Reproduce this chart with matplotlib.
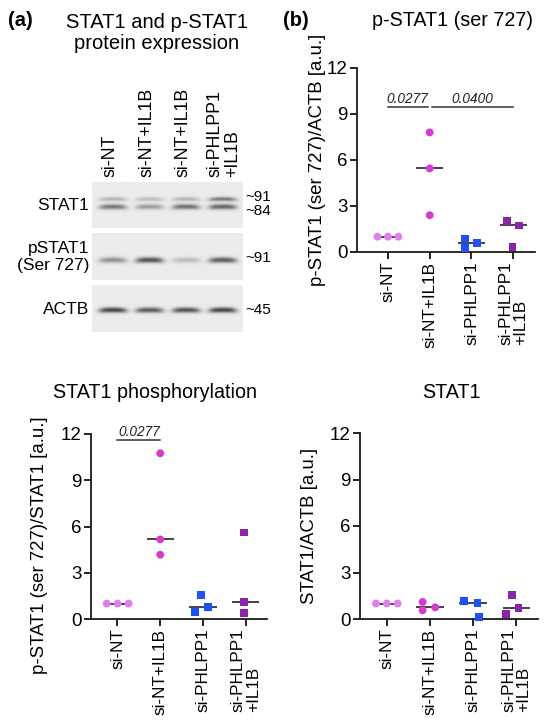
import numpy as np
import matplotlib
matplotlib.use("Agg")
import matplotlib.pyplot as plt

plt.rcParams['font.family'] = ['Liberation Sans', 'DejaVu Sans']

# ---------------- data ----------------
groups = ['si-NT', 'si-NT+IL1B', 'si-PHLPP1', 'si-PHLPP1\n+IL1B']
blot_lanes = ['si-NT', 'si-NT+IL1B', 'si-NT+IL1B', 'si-PHLPP1\n+IL1B']

# band intensities (darkness, 0..1) read from the blot
stat1_upper = [0.28, 0.24, 0.28, 0.58]
stat1_lower = [0.58, 0.40, 0.62, 0.68]
pstat1_band = [0.45, 0.78, 0.24, 0.72]
actb_band = [0.85, 0.74, 0.78, 0.85]

# quantification values
pstat1_actb = [[1.0, 1.0, 1.0], [7.8, 5.45, 2.4], [0.84, 0.26, 0.58], [2.0, 1.73, 0.33]]
pstat1_stat1 = [[1.0, 1.0, 1.0], [10.75, 5.16, 4.17], [1.55, 0.45, 0.80], [5.61, 1.12, 0.39]]
stat1_actb = [[1.0, 1.0, 1.0], [1.10, 0.56, 0.75], [1.18, 1.01, 0.13], [1.55, 0.71, 0.34]]

# horizontal jitter of the points
jit_b = [[-0.25, 0.0, 0.25], [0.0, 0.0, 0.0], [-0.16, -0.16, 0.14], [-0.16, 0.13, -0.02]]
jit_c = [[-0.25, 0.0, 0.26], [0.0, 0.0, 0.0], [-0.04, -0.18, 0.12], [-0.03, -0.03, -0.03]]
jit_d = [[-0.25, 0.0, 0.25], [-0.17, -0.17, 0.12], [-0.22, 0.10, 0.13], [-0.10, 0.05, -0.25]]

colors = ['#E07EEE', '#D63AD2', '#1E50FF', '#8B24A8']
markers = ['o', 'o', 's', 's']

W, H = 550, 723
fig = plt.figure(figsize=(W / 100, H / 100), dpi=100)


def px_axes(left, top, right, bottom):
    return fig.add_axes([left / W, 1 - bottom / H, (right - left) / W, (bottom - top) / H])


def ftext(x, y, s, **kw):
    return fig.text(x / W, 1 - y / H, s, **kw)


# ---------------- panel (a): blot ----------------
ftext(8, 20, '(a)', fontsize=14.5, fontweight='bold', va='center', ha='left')
ftext(157, 33, 'STAT1 and p-STAT1\nprotein expression', fontsize=14.5, ha='center', va='center',
      linespacing=1.15)

lane_x = [110, 147, 183, 224]
for lx, lab in zip(lane_x, blot_lanes):
    ftext(lx, 177, lab, rotation=90, fontsize=12.8, ha='center', va='bottom', multialignment='left',
          linespacing=1.0)

XL, XR = -0.57, 3.55


def blot(top, bottom, bands):
    ax = px_axes(92, top, 243, bottom)
    h = bottom - top
    xs = np.linspace(XL, XR, 600)
    ys = np.linspace(0, h, 240)
    X, Y = np.meshgrid(xs, ys)
    img = np.full(X.shape, 0.925)
    for yc, sig, vals in bands:
        for i, v in enumerate(vals):
            dx = (X - i) / 0.38
            yy = yc + 0.6 * dx ** 2
            img -= 0.78 * v * np.exp(-dx ** 4) * np.exp(-0.5 * ((Y - yy) / sig) ** 2)
    img = np.clip(img, 0, 1)
    ax.imshow(img, cmap='gray', vmin=0, vmax=1, extent=(XL, XR, h, 0), aspect='auto',
              interpolation='bilinear')
    ax.set_axis_off()
    return ax


blot(182, 228, [(17, 1.5, stat1_upper), (24.7, 1.9, stat1_lower)])
blot(233, 280, [(27, 2.0, pstat1_band)])
blot(285, 332, [(25, 1.9, actb_band)])

ftext(89, 205, 'STAT1', fontsize=12.5, ha='right', va='center')
ftext(89, 257, 'pSTAT1\n(Ser 727)', fontsize=12.5, ha='right', va='center', multialignment='right',
      linespacing=1.1)
ftext(89, 309, 'ACTB', fontsize=12.5, ha='right', va='center')
ftext(245, 197, '~91', fontsize=11, ha='left', va='center')
ftext(245, 211, '~84', fontsize=11, ha='left', va='center')
ftext(245, 258, '~91', fontsize=11, ha='left', va='center')
ftext(245, 310, '~45', fontsize=11, ha='left', va='center')


# ---------------- dot plots ----------------
def dotplot(ax, values, jit, xlim, ylabel, label_xy):
    for i, (vals, jj) in enumerate(zip(values, jit)):
        med = np.median(vals)
        ax.plot([i - 0.32, i + 0.32], [med, med], color='#222222', lw=1.2, zorder=2,
                solid_capstyle='butt')
        ax.scatter([i + j for j in jj], vals, s=32, marker=markers[i], color=colors[i],
                   edgecolors='none', zorder=3, clip_on=False)
    ax.set_xlim(*xlim)
    ax.set_ylim(0, 12)
    ax.set_yticks([0, 3, 6, 9, 12])
    ax.set_xticks(range(len(groups)))
    ax.set_xticklabels(groups, rotation=90, va='top', ha='center', multialignment='left',
                       linespacing=1.0)
    for sp in ['top', 'right']:
        ax.spines[sp].set_visible(False)
    for sp in ['left', 'bottom']:
        ax.spines[sp].set_linewidth(1.3)
        ax.spines[sp].set_color('#1a1a1a')
    ax.tick_params(axis='y', direction='out', length=5, width=1.2, labelsize=13.5, pad=2)
    ax.tick_params(axis='x', direction='out', length=5, width=1.2, labelsize=12.3, pad=2)
    ax.set_ylabel(ylabel, fontsize=13.4)
    ax.yaxis.set_label_coords(*label_xy)
    ax.patch.set_alpha(0)


def sig(ax, x0, x1, y, txt, ty):
    ax.plot([x0, x1], [y, y], color='#333333', lw=1.1, clip_on=False)
    ax.text((x0 + x1) / 2, ty, txt, fontsize=9.8, style='italic', ha='center', va='bottom',
            color='#222222', clip_on=False)


# panel (b)
ftext(283, 20, '(b)', fontsize=14.5, fontweight='bold', va='center', ha='left')
ftext(452, 20, 'p-STAT1 (ser 727)', fontsize=14.2, ha='center', va='center')
axb = px_axes(357, 68, 535, 252)
dotplot(axb, pstat1_actb, jit_b, (-0.74, 3.52), 'p-STAT1 (ser 727)/ACTB [a.u.]', (-0.175, 0.5))
sig(axb, 0.0, 0.95, 9.45, '0.0277', 9.55)
sig(axb, 1.05, 3.0, 9.45, '0.0400', 9.55)

# panel (c)
ftext(155, 393, 'STAT1 phosphorylation', fontsize=14.2, ha='center', va='center')
axc = px_axes(91, 434, 267, 619)
dotplot(axc, pstat1_stat1, jit_c, (-0.62, 3.5), 'p-STAT1 (ser 727)/STAT1 [a.u.]', (-0.245, 0.40))
sig(axc, 0.0, 1.0, 11.6, '0.0277', 11.7)

# panel (d)
ftext(451, 393, 'STAT1', fontsize=14.2, ha='center', va='center')
axd = px_axes(360, 433, 538, 619)
dotplot(axd, stat1_actb, jit_d, (-0.62, 3.5), 'STAT1/ACTB [a.u.]', (-0.235, 0.5))

fig.savefig('out.png', dpi=100)
